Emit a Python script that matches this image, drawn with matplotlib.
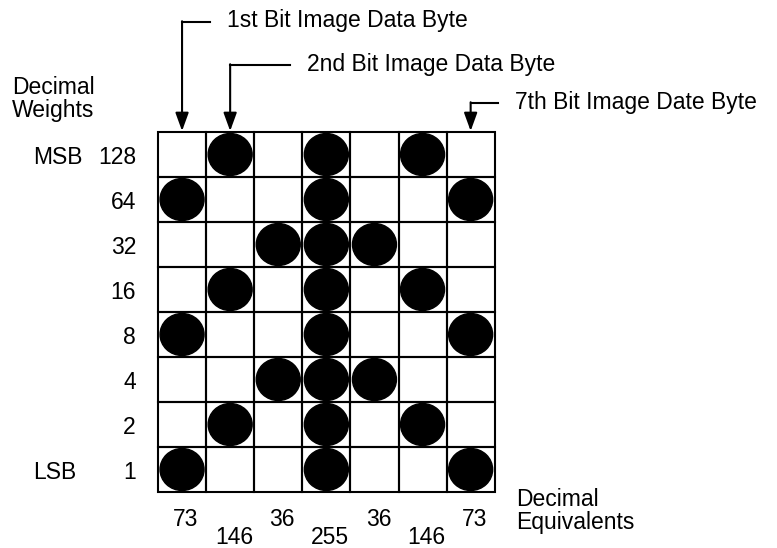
import numpy as np
import matplotlib.pyplot as plt
from matplotlib.patches import Rectangle, Ellipse

plt.rcParams['font.family'] = ['Liberation Sans', 'DejaVu Sans']

# data
byte_values = [73, 146, 36, 255, 36, 146, 73]
weights = [128, 64, 32, 16, 8, 4, 2, 1]
weight_tags = ['MSB', '', '', '', '', '', '', 'LSB']
callouts = ['1st Bit Image Data Byte', '2nd Bit Image Data Byte', '7th Bit Image Date Byte']
callout_cols = [0, 1, 6]

# layout (pixel coordinates)
W, H = 777, 548
x0, y0 = 158, 132
cw, ch = 48.1, 45.0
fs = 16.5

fig = plt.figure(figsize=(W/100, H/100), dpi=100)
ax = fig.add_axes([0, 0, 1, 1])
ax.set_xlim(0, W)
ax.set_ylim(H, 0)
ax.axis('off')

# grid cells and dots
for j, val in enumerate(byte_values):
    for i, w in enumerate(weights):
        ax.add_patch(Rectangle((x0 + j*cw, y0 + i*ch), cw, ch, fill=False,
                               ec='black', lw=1.5, zorder=2))
        if val & w:
            ax.add_patch(Ellipse((x0 + (j+0.5)*cw, y0 + (i+0.5)*ch), 44, 42,
                                 fc='black', ec='black', zorder=3))

# row labels
ax.text(12, 87, 'Decimal', fontsize=fs, ha='left', va='center')
ax.text(12, 110, 'Weights', fontsize=fs, ha='left', va='center')
for i, w in enumerate(weights):
    yc = y0 + (i+0.5)*ch + 3
    ax.text(136, yc, str(w), fontsize=fs, ha='right', va='center')
    if weight_tags[i]:
        ax.text(33, yc, weight_tags[i], fontsize=fs, ha='left', va='center')

# column values, staggered
for j, val in enumerate(byte_values):
    yl = 520 if j % 2 == 0 else 538
    ax.text(x0 + (j+0.5)*cw + 4, yl, str(val), fontsize=fs, ha='center', va='center')
ax.text(516, 500, 'Decimal', fontsize=fs, ha='left', va='center')
ax.text(516, 523, 'Equivalents', fontsize=fs, ha='left', va='center')

# callout arrows
call_y = [22, 65, 103]
call_len = [28, 60, 27]
for txt, col, yy, ln in zip(callouts, callout_cols, call_y, call_len):
    xc = x0 + (col+0.5)*cw
    ax.plot([xc, xc + ln], [yy, yy], color='black', lw=1.5)
    ax.annotate('', xy=(xc, y0 - 1), xytext=(xc, yy - 0.75),
                arrowprops=dict(arrowstyle='-|>,head_length=1.1,head_width=0.4',
                                color='black', lw=1.5, shrinkA=0, shrinkB=0))
    ax.text(xc + ln + 17, yy - 1, txt, fontsize=fs, ha='left', va='center')

fig.savefig('out.png', dpi=100)
